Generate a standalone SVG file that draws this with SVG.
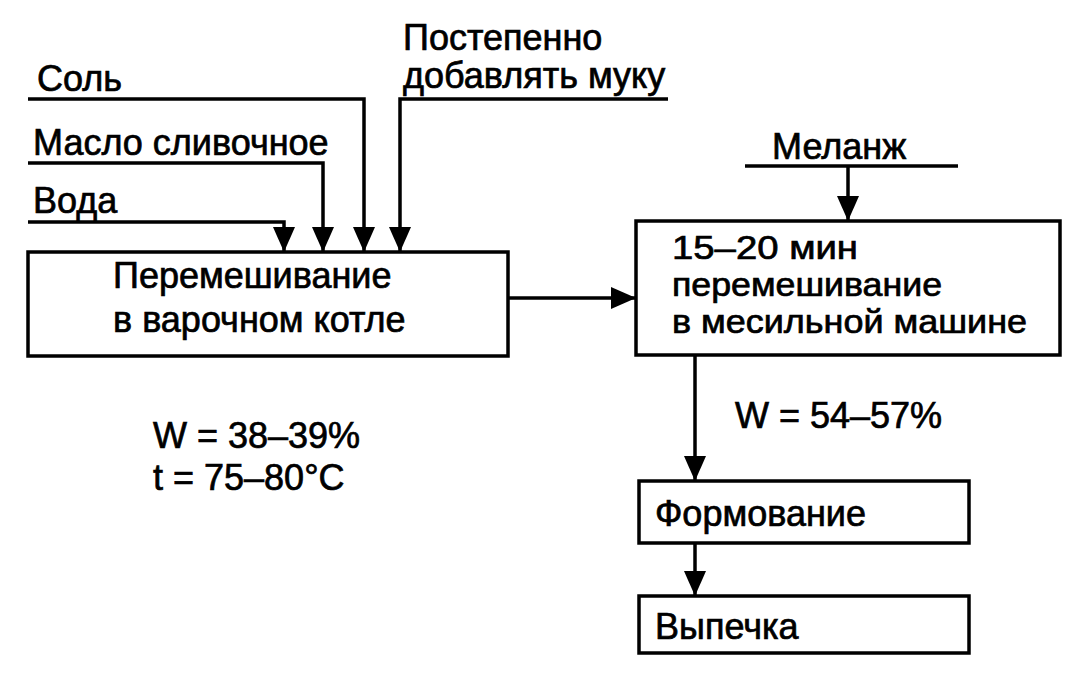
<svg xmlns="http://www.w3.org/2000/svg" width="1087" height="686" viewBox="0 0 1087 686">
<style>
text{font-family:"Liberation Sans",Arial,sans-serif;font-size:36px;fill:#000;stroke:#000;stroke-width:0.7px}
.tight{font-size:33px}
.box{fill:#fff;stroke:#000;stroke-width:3.5}
.ln{fill:none;stroke:#000;stroke-width:3.5}
</style>
<defs>
<marker id="ah" viewBox="0 0 25 22" refX="25" refY="11" markerWidth="25" markerHeight="22" orient="auto" markerUnits="userSpaceOnUse">
<path d="M0,0 L25,11 L0,22 Z" fill="#000"/>
</marker>
</defs>
<rect width="1087" height="686" fill="#fff"/>
<g id="connectors">
<polyline class="ln" points="28,222 284,222 284,252" marker-end="url(#ah)"/>
<polyline class="ln" points="28,163 323,163 323,252" marker-end="url(#ah)"/>
<polyline class="ln" points="28,99 364,99 364,252" marker-end="url(#ah)"/>
<polyline class="ln" points="668,99 400,99 400,252" marker-end="url(#ah)"/>
<line class="ln" x1="508" y1="298" x2="636" y2="298" marker-end="url(#ah)"/>
<line class="ln" x1="745" y1="166" x2="958" y2="166"/>
<line class="ln" x1="848" y1="166" x2="848" y2="221" marker-end="url(#ah)"/>
<line class="ln" x1="695" y1="355" x2="695" y2="481" marker-end="url(#ah)"/>
<line class="ln" x1="695" y1="543" x2="695" y2="596" marker-end="url(#ah)"/>
</g>
<g id="input-labels">
<text x="403" y="50">Постепенно</text>
<text x="403" y="88">добавлять муку</text>
<text x="37" y="91">Соль</text>
<text x="33" y="155">Масло сливочное</text>
<text x="33" y="213">Вода</text>
<text x="772" y="159">Меланж</text>
</g>
<g id="node-kettle">
<rect class="box" x="28" y="252" width="480" height="104"/>
<text x="113" y="288">Перемешивание</text>
<text x="113" y="332">в варочном котле</text>
</g>
<g id="node-mixer">
<rect class="box" x="636" y="221" width="424" height="134"/>
<text class="tight" x="672" y="259" textLength="186" lengthAdjust="spacingAndGlyphs">15–20 мин</text>
<text class="tight" x="672" y="296" textLength="270" lengthAdjust="spacingAndGlyphs">перемешивание</text>
<text class="tight" x="672" y="333" textLength="355" lengthAdjust="spacingAndGlyphs">в месильной машине</text>
</g>
<g id="params">
<text x="153" y="448">W = 38–39%</text>
<text x="153" y="490">t = 75–80°C</text>
<text x="735" y="428">W = 54–57%</text>
</g>
<g id="node-forming">
<rect class="box" x="639" y="481" width="330" height="62"/>
<text x="655" y="526">Формование</text>
</g>
<g id="node-baking">
<rect class="box" x="639" y="596" width="330" height="57"/>
<text x="655" y="639">Выпечка</text>
</g>
</svg>
